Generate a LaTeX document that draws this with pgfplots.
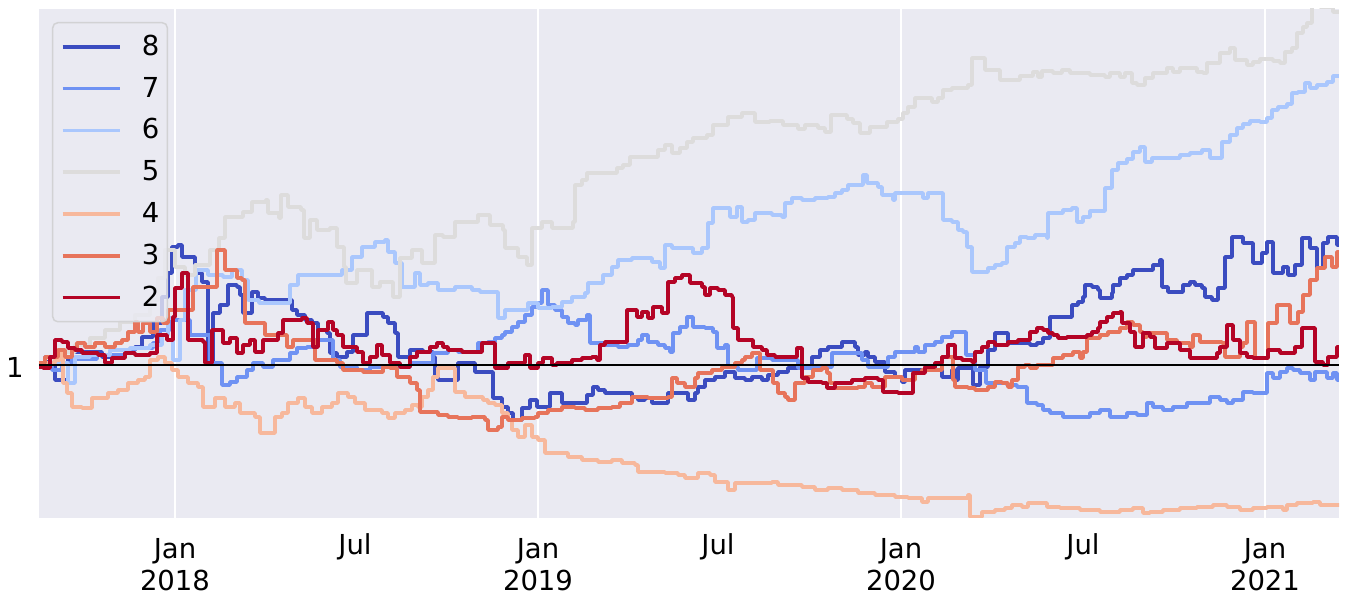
\documentclass[border=0pt]{standalone}
\usepackage{fontspec}
\setmainfont{DejaVu Sans}
\usepackage{pgfplots}
\pgfplotsset{compat=1.18}
\definecolor{bg}{HTML}{EAEAF2}
\definecolor{lframe}{HTML}{D2D2D4}
\definecolor{c8}{HTML}{3B4CC0}
\definecolor{c7}{HTML}{6F92F3}
\definecolor{c6}{HTML}{AAC7FD}
\definecolor{c5}{HTML}{DDDCDC}
\definecolor{c4}{HTML}{F7B89C}
\definecolor{c3}{HTML}{E7745B}
\definecolor{c2}{HTML}{B40426}
\newcommand\fs{\fontsize{13.75bp}{16bp}\selectfont}
\begin{document}
\begin{tikzpicture}
\begin{axis}[
  scale only axis, width=650bp, height=254.5bp,
  xmin=-136, xmax=1164, ymin=-153, ymax=356,
  axis background/.style={fill=bg},
  axis line style={draw=none},
  major tick length=0pt, minor tick length=0pt,
  xtick={0,363,726,1090},
  xticklabels={{Jan\\2018},{Jan\\2019},{Jan\\2020},{Jan\\2021}},
  xticklabel style={align=center, font=\fs, inner sep=0pt, anchor=north, yshift=-10bp},
  extra x ticks={180,543,908},
  extra x tick labels={Jul,Jul,Jul},
  extra x tick style={grid=none, xticklabel style={yshift=2.3bp}},
  ytick={0}, yticklabels={1},
  yticklabel style={font=\fs, inner sep=0pt, anchor=east, xshift=-7.5bp, yshift=-1bp},
  xmajorgrids, major grid style={white, line width=1bp},
  legend style={at={(axis description cs:0,1)}, anchor=north west, xshift=6.5bp, yshift=-6.5bp,
    fill=bg, fill opacity=0.8, text opacity=1, draw=lframe, line width=0.75bp, rounded corners=2.5bp,
    inner xsep=4bp, inner ysep=6.3bp, font=\fs, row sep=9.4bp,
    nodes={inner sep=0pt, text height=10bp, text depth=1.5bp},
    /tikz/every odd column/.append style={column sep=10.25bp}},
  legend cell align=left,
  legend image code/.code={\draw[#1] (0bp,0bp) -- (28.5bp,0bp);},
  every axis plot/.append style={line width=1.8bp, line join=round, const plot},
]
\coordinate (SW) at (rel axis cs:0,0);
\coordinate (NE) at (rel axis cs:1,1);
% 8
\addplot[c8] coordinates {(-136,0)(-130,3)(-120,-15)(-113,-15)(-107,8)(-103,13)(-73,8)(-50,15)(-40,18)(-33,28)(-22,42)(-13,68)(-7,92)(-3,118)(3,120)(7,108)(20,92)(27,83)(33,2)(38,52)(45,60)(53,80)(62,78)(65,70)(68,52)(77,73)(83,67)(90,65)(110,65)(117,55)(122,50)(130,45)(137,42)(143,35)(152,32)(155,12)(162,8)(172,13)(178,30)(192,52)(200,52)(208,48)(213,42)(220,32)(223,8)(235,15)(248,13)(258,8)(260,-12)(263,-15)(283,2)(300,-7)(318,-33)(327,-42)(333,-48)(338,-55)(347,-43)(355,-35)(362,-42)(375,-28)(387,-38)(412,-30)(418,-22)(423,-25)(430,-28)(457,-32)(463,-35)(470,-33)(477,-38)(493,-28)(513,-35)(520,-28)(523,-22)(530,-15)(540,-12)(550,-7)(560,-13)(570,-15)(577,-12)(587,-15)(593,-10)(603,-7)(613,-3)(637,8)(645,15)(653,18)(667,23)(680,18)(683,10)(690,13)(693,8)(700,3)(710,-7)(720,-12)(727,-17)(730,-5)(753,-2)(760,-5)(767,-12)(777,-5)(780,-15)(783,-3)(798,-20)(805,-2)(813,15)(820,32)(833,22)(855,20)(862,22)(868,27)(875,48)(897,60)(903,63)(908,68)(910,80)(917,78)(923,75)(925,67)(937,72)(938,80)(945,87)(952,90)(958,95)(978,100)(985,105)(987,78)(993,73)(1008,80)(1015,83)(1020,80)(1027,77)(1030,68)(1037,65)(1043,77)(1050,108)(1057,128)(1068,122)(1078,102)(1087,112)(1092,123)(1098,92)(1108,98)(1113,90)(1120,100)(1127,127)(1135,117)(1142,97)(1148,122)(1153,128)(1162,120)(1164,120)};
\addlegendentry{8}
% 7
\addplot[c7] coordinates {(-136,2)(-130,8)(-123,-5)(-113,2)(-103,6)(-78,10)(-50,15)(-40,17)(-22,22)(-15,35)(-5,45)(15,30)(25,30)(35,2)(47,-20)(55,-17)(62,-12)(72,-5)(78,2)(88,-2)(98,5)(115,12)(122,17)(132,18)(138,25)(152,25)(158,5)(165,-2)(182,-5)(195,-2)(215,-2)(235,2)(258,12)(273,15)(283,13)(303,22)(313,23)(320,27)(327,30)(330,33)(337,38)(343,43)(350,50)(357,58)(363,62)(367,75)(373,60)(380,55)(387,48)(393,42)(400,40)(403,45)(412,50)(415,22)(430,20)(443,18)(453,20)(463,25)(467,30)(473,23)(483,20)(490,17)(495,13)(498,32)(505,38)(512,48)(518,38)(530,37)(538,33)(542,17)(550,20)(553,-2)(563,-5)(582,7)(597,5)(623,-3)(650,-2)(657,12)(680,12)(687,5)(693,-2)(713,8)(720,13)(740,18)(743,13)(750,20)(760,23)(767,28)(777,33)(791,10)(800,-5)(811,-18)(832,-20)(842,-22)(852,-38)(862,-40)(868,-45)(875,-48)(888,-52)(915,-48)(925,-45)(935,-52)(952,-48)(962,-50)(972,-38)(978,-42)(988,-45)(998,-42)(1012,-38)(1035,-32)(1045,-35)(1052,-38)(1058,-35)(1068,-27)(1078,-28)(1092,-8)(1098,-13)(1105,-7)(1112,-3)(1118,-5)(1125,-8)(1135,-15)(1140,-7)(1152,-13)(1158,-8)(1162,-15)(1164,-15)};
\addlegendentry{7}
% 6
\addplot[c6] coordinates {(-136,0)(-123,2)(-107,-18)(-100,8)(-85,10)(-65,15)(-45,17)(-25,20)(-13,30)(-7,47)(-2,5)(5,45)(10,75)(21,95)(33,90)(48,88)(57,95)(67,85)(73,65)(84,62)(115,80)(123,90)(147,90)(167,95)(177,108)(187,118)(200,123)(210,125)(213,113)(220,102)(227,78)(240,92)(245,80)(253,82)(263,75)(280,78)(297,75)(305,73)(323,47)(330,55)(353,62)(363,57)(377,58)(387,63)(397,68)(410,72)(413,82)(428,90)(437,98)(443,105)(457,107)(477,103)(485,97)(490,120)(497,117)(518,112)(527,117)(533,142)(538,157)(555,148)(562,158)(567,143)(573,145)(580,152)(597,150)(607,148)(610,162)(617,167)(627,165)(640,167)(653,168)(660,172)(667,175)(673,180)(688,190)(692,182)(703,178)(707,170)(718,165)(720,172)(743,172)(748,167)(753,172)(768,145)(777,143)(783,135)(788,133)(792,118)(797,93)(813,97)(820,100)(827,102)(832,118)(840,122)(845,128)(852,127)(860,130)(872,127)(873,152)(888,155)(897,157)(902,143)(908,148)(915,154)(930,177)(937,195)(943,202)(952,206)(958,213)(965,218)(970,203)(977,207)(1005,210)(1015,212)(1027,215)(1035,207)(1047,223)(1055,230)(1062,237)(1068,241)(1075,244)(1085,243)(1092,247)(1097,255)(1103,258)(1112,261)(1117,272)(1123,273)(1130,282)(1135,277)(1142,280)(1152,283)(1158,289)(1164,289)};
\addlegendentry{6}
% 5
\addplot[c5] coordinates {(-136,0)(-125,5)(-115,13)(-100,20)(-85,27)(-70,35)(-55,43)(-40,50)(-25,65)(-17,87)(-10,115)(0,98)(10,90)(20,100)(35,115)(44,127)(50,148)(68,153)(77,163)(91,165)(93,152)(104,147)(106,170)(113,158)(126,155)(129,127)(135,145)(142,135)(155,137)(162,118)(169,98)(171,82)(182,95)(190,95)(197,78)(205,83)(218,68)(225,107)(237,115)(247,102)(260,130)(268,128)(280,143)(303,150)(315,140)(328,135)(330,117)(343,108)(352,100)(357,137)(367,143)(377,137)(398,143)(400,180)(407,185)(412,192)(430,192)(442,197)(448,200)(455,208)(483,215)(490,220)(497,212)(505,217)(512,223)(518,227)(532,230)(538,240)(553,248)(567,252)(580,243)(595,244)(608,240)(623,236)(630,240)(643,237)(650,233)(656,250)(672,246)(678,242)(685,232)(695,238)(712,243)(723,246)(728,252)(733,258)(740,267)(757,263)(763,267)(768,275)(777,277)(793,280)(797,307)(810,295)(825,285)(845,289)(858,293)(863,288)(867,294)(878,292)(887,295)(895,292)(915,290)(930,288)(935,292)(945,288)(950,292)(957,282)(962,280)(970,287)(978,292)(992,297)(998,293)(1005,297)(1022,293)(1028,292)(1032,302)(1045,312)(1055,317)(1060,305)(1072,300)(1078,303)(1085,306)(1098,304)(1105,302)(1110,313)(1117,317)(1122,332)(1128,338)(1132,342)(1137,360)(1145,358)(1158,353)(1164,353)};
\addlegendentry{5}
% 4
\addplot[c4] coordinates {(-136,2)(-120,5)(-115,15)(-112,-18)(-108,-28)(-103,-42)(-93,-43)(-83,-33)(-67,-28)(-57,-25)(-47,-18)(-37,-15)(-30,-12)(-25,5)(-17,8)(-10,2)(-3,-5)(3,-12)(13,-18)(23,-22)(28,-42)(40,-33)(50,-42)(60,-38)(65,-48)(80,-52)(85,-68)(100,-52)(107,-48)(113,-38)(123,-33)(130,-42)(137,-48)(147,-42)(157,-38)(163,-28)(173,-32)(180,-38)(190,-45)(207,-48)(213,-53)(220,-48)(230,-45)(237,-40)(243,-42)(247,-32)(253,-25)(258,-12)(263,-3)(280,-27)(290,-32)(308,-35)(313,-38)(320,-40)(327,-48)(333,-55)(337,-65)(343,-72)(350,-60)(357,-72)(363,-75)(370,-88)(393,-92)(407,-95)(423,-97)(437,-95)(447,-98)(460,-100)(463,-107)(490,-108)(503,-110)(510,-113)(523,-108)(535,-110)(540,-117)(553,-125)(560,-118)(597,-117)(603,-120)(627,-122)(640,-125)(653,-123)(667,-125)(683,-128)(700,-130)(720,-132)(733,-133)(747,-137)(753,-133)(793,-130)(795,-152)(807,-147)(820,-145)(830,-143)(837,-140)(847,-142)(853,-138)(872,-142)(885,-143)(905,-145)(925,-147)(945,-145)(958,-143)(968,-148)(975,-147)(988,-145)(1005,-143)(1022,-142)(1038,-140)(1052,-142)(1065,-145)(1078,-143)(1092,-142)(1108,-145)(1112,-140)(1122,-138)(1138,-137)(1145,-140)(1164,-142)};
\addlegendentry{4}
% 3
\addplot[c3] coordinates {(-136,2)(-130,8)(-117,15)(-110,8)(-103,15)(-98,22)(-90,18)(-80,22)(-70,18)(-60,22)(-53,25)(-47,33)(-40,43)(-37,33)(-32,42)(-25,33)(-18,47)(-12,42)(-7,55)(12,55)(18,78)(33,78)(42,115)(50,95)(62,87)(67,85)(70,42)(88,42)(90,30)(112,18)(118,25)(138,25)(140,5)(162,2)(168,-5)(188,-7)(208,-2)(215,-3)(222,-12)(235,-18)(242,-25)(245,-47)(263,-50)(273,-52)(283,-53)(297,-52)(310,-55)(313,-65)(323,-62)(327,-52)(333,-55)(347,-53)(360,-52)(363,-48)(373,-45)(387,-42)(400,-43)(410,-45)(423,-43)(437,-42)(445,-38)(457,-32)(473,-33)(493,-32)(497,-13)(502,-18)(510,-22)(520,-13)(523,-8)(537,-5)(547,-2)(560,2)(567,5)(570,8)(577,12)(585,-5)(598,-18)(603,-28)(610,-32)(613,-35)(620,-18)(630,-12)(638,-5)(647,-3)(652,-8)(655,-18)(660,-23)(683,-22)(690,-18)(697,-22)(710,-12)(727,-15)(740,-8)(747,-5)(767,8)(778,-15)(780,-22)(793,-23)(800,-25)(813,-22)(820,-17)(827,-18)(833,-22)(837,-15)(843,-2)(850,0)(855,-3)(862,0)(878,7)(888,10)(898,13)(905,7)(908,13)(912,27)(925,30)(933,33)(945,37)(952,43)(958,40)(965,33)(968,28)(972,32)(992,25)(1002,22)(1015,18)(1018,30)(1025,23)(1047,22)(1050,8)(1065,18)(1068,22)(1072,43)(1080,7)(1093,42)(1102,60)(1115,42)(1123,53)(1128,70)(1135,85)(1142,97)(1150,108)(1157,98)(1162,113)(1164,113)};
\addlegendentry{3}
% 2
\addplot[c2] coordinates {(-136,-2)(-132,-3)(-125,8)(-120,25)(-113,23)(-107,17)(-100,15)(-93,12)(-77,10)(-70,2)(-63,7)(-50,12)(-40,10)(-25,12)(-18,30)(-8,25)(-2,48)(0,77)(7,92)(13,25)(28,23)(30,2)(37,35)(48,22)(55,27)(62,12)(68,20)(75,25)(80,13)(88,25)(103,32)(108,45)(127,47)(132,42)(138,18)(143,35)(153,43)(158,35)(162,30)(168,18)(182,13)(188,2)(195,8)(202,20)(207,10)(215,2)(225,-2)(235,8)(242,13)(255,18)(262,22)(268,18)(273,15)(287,13)(307,22)(320,-3)(333,2)(350,10)(355,-3)(363,2)(368,7)(377,0)(382,2)(397,5)(407,7)(417,8)(422,5)(425,20)(430,23)(452,55)(462,48)(467,53)(473,47)(478,58)(487,52)(493,83)(500,87)(507,90)(515,82)(527,78)(530,70)(535,77)(543,75)(550,70)(557,68)(558,37)(563,25)(578,18)(587,15)(592,10)(600,8)(622,17)(627,-13)(633,-17)(647,-18)(652,-23)(660,-18)(677,-15)(690,-13)(703,-15)(708,-27)(723,-28)(738,-8)(750,-2)(760,2)(767,8)(773,20)(780,7)(787,5)(797,3)(800,13)(807,18)(813,23)(820,20)(833,23)(843,25)(855,33)(862,37)(868,35)(873,32)(878,30)(883,27)(892,28)(912,30)(917,33)(923,37)(925,43)(932,48)(938,52)(945,53)(947,42)(955,33)(960,18)(968,32)(975,28)(980,17)(992,22)(1005,15)(1015,7)(1042,12)(1045,18)(1052,40)(1058,25)(1065,12)(1072,8)(1078,7)(1093,15)(1105,12)(1120,18)(1127,37)(1140,3)(1148,0)(1153,8)(1162,18)(1164,18)};
\addlegendentry{2}
\addplot[black, line width=1bp, forget plot] coordinates {(-136,0)(1164,0)};
\end{axis}
\pgfresetboundingbox
\path[use as bounding box] ([shift={(-19.5bp,-43bp)}]SW) rectangle ([shift={(9.5bp,4.5bp)}]NE);
\end{tikzpicture}
\end{document}
